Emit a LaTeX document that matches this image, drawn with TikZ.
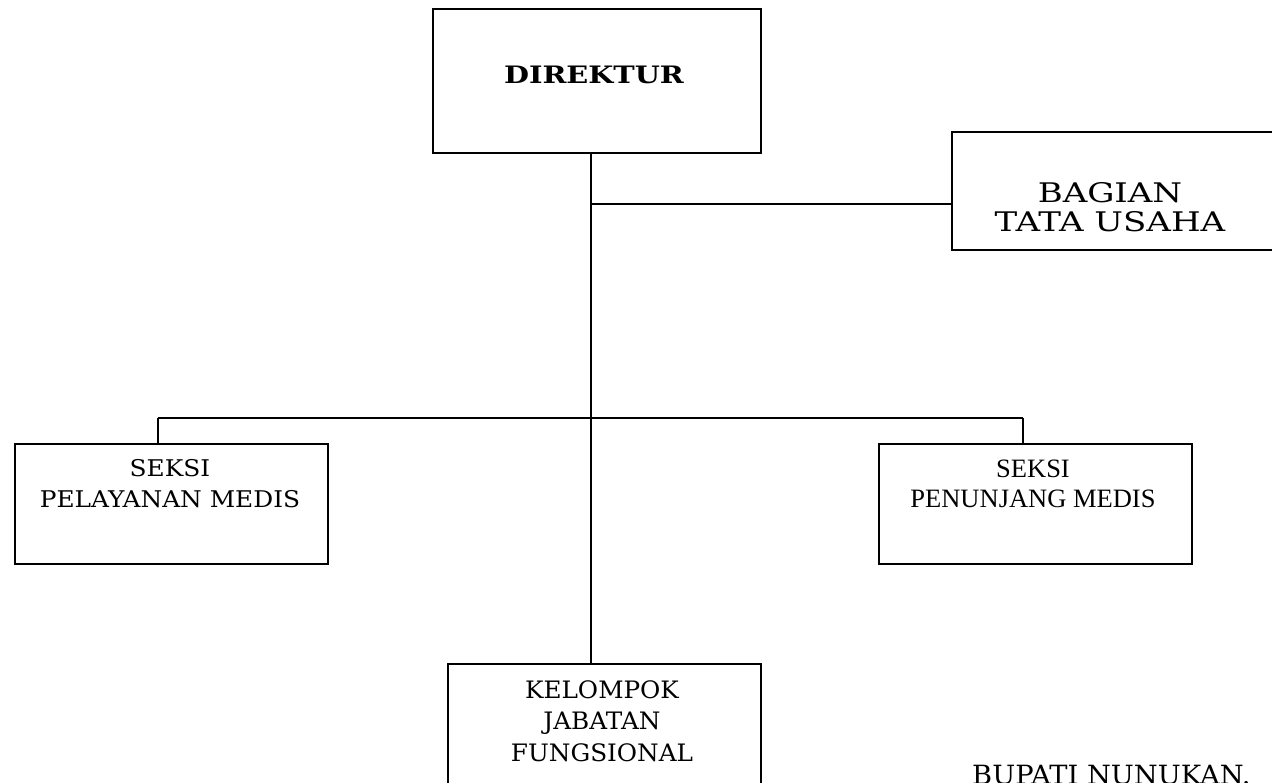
\documentclass[tikz,border=0pt]{standalone}
\usepackage{fontspec}
\setmainfont{DejaVu Serif}
\newfontfamily\timesfont{Liberation Serif}
\begin{document}
\begin{tikzpicture}[x=1pt,y=-1pt,
  box/.style={draw=black,line width=1.8pt,fill=white,inner sep=0pt,anchor=north west},
  link/.style={draw=black,line width=1.3pt},
  txt/.style={inner sep=0pt,align=center,anchor=north}]
\useasboundingbox[fill=white] (0,0) rectangle (1272,783);
% boxes
\node[box,minimum width=328pt,minimum height=144pt] (dir) at (432,8) {};
\node[box,minimum width=340pt,minimum height=118pt] (tu) at (951,131) {};
\node[box,minimum width=313pt,minimum height=120pt] (pm) at (14,443) {};
\node[box,minimum width=313pt,minimum height=120pt] (pn) at (878,443) {};
\node[box,minimum width=313pt,minimum height=140pt] (kj) at (447,663) {};
% junctions
\coordinate (jtu) at (591,204);
\coordinate (jh) at (591,418);
\coordinate (jl) at (158,418);
\coordinate (jr) at (1023,418);
% connectors
\draw[link] (dir.south -| jh) -- (kj.north -| jh);
\draw[link] (jtu) -- (tu.west |- jtu);
\draw[link] (jl) -- (jr);
\draw[link] (jl) -- (pm.north -| jl);
\draw[link] (jr) -- (pn.north -| jr);
% texts
\node[txt,font=\fontsize{24}{30}\selectfont\bfseries\addfontfeature{FakeStretch=1.2}] (dirt) at (594,66) {DIREKTUR};
\node[txt,font=\fontsize{27}{29}\selectfont\addfontfeature{FakeStretch=1.26}] (tut) at (1110,182) {BAGIAN\\TATA USAHA};
\node[txt,font=\fontsize{23}{31}\selectfont\addfontfeature{FakeStretch=1.08}] (pmt) at (170,459.5) {SEKSI\\PELAYANAN MEDIS};
\node[txt,font=\timesfont\fontsize{26.5}{30}\selectfont] (pnt) at (1033,459.5) {SEKSI\\PENUNJANG MEDIS};
\node[txt,font=\fontsize{24}{31.5}\selectfont\addfontfeature{FakeStretch=1.03}] (kjt) at (602,680) {KELOMPOK\\JABATAN\\FUNGSIONAL};
\node[inner sep=0pt,anchor=base west,font=\fontsize{26.5}{30}\selectfont\addfontfeature{FakeStretch=1.03}] (bup) at (972,784) {BUPATI NUNUKAN.};
\end{tikzpicture}
\end{document}
